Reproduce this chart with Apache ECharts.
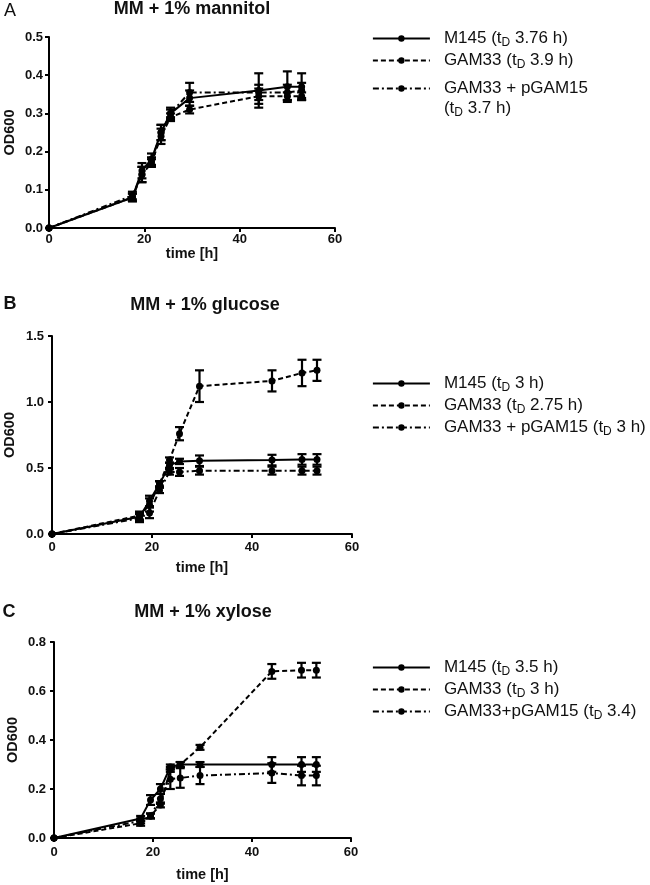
<!DOCTYPE html>
<html>
<head>
<meta charset="utf-8">
<script src="https://cdn.jsdelivr.net/npm/echarts@6/dist/echarts.min.js"></script>
<style>
html,body{margin:0;padding:0;background:#fff;}
#chart{width:650px;height:885px;}
</style>
</head>
<body>
<div id="chart"></div>
<script>
// ---- data ----
const times = [0, 17.5, 19.5, 21.5, 23.5, 25.5, 29.5, 44, 50, 53];

const mannitolM145 = [0, 0.08, 0.15, 0.18, 0.25, 0.30, 0.34, 0.36, 0.37, 0.37];
const mannitolGAM33 = [0, 0.08, 0.14, 0.17, 0.24, 0.29, 0.31, 0.345, 0.345, 0.345];
const mannitolComp = [0, 0.085, 0.14, 0.175, 0.25, 0.30, 0.355, 0.355, 0.355, 0.36];
const mannitolM145Err = [0, 0.01, 0.02, 0.015, 0.02, 0.015, 0.02, 0.045, 0.04, 0.035];
const mannitolGAM33Err = [0, 0.01, 0.02, 0.01, 0.02, 0.01, 0.01, 0.02, 0.01, 0.01];
const mannitolCompErr = [0, 0.01, 0.02, 0.01, 0.02, 0.01, 0.025, 0.02, 0.02, 0.02];

const glucoseM145 = [0, 0.13, 0.25, 0.38, 0.52, 0.55, 0.555, 0.56, 0.565, 0.565];
const glucoseGAM33 = [0, 0.14, 0.22, 0.38, 0.56, 0.76, 1.12, 1.16, 1.22, 1.24];
const glucoseComp = [0, 0.12, 0.16, 0.33, 0.47, 0.47, 0.48, 0.48, 0.48, 0.48];
const glucoseM145Err = [0, 0.03, 0.04, 0.02, 0.02, 0.02, 0.04, 0.04, 0.04, 0.04];
const glucoseGAM33Err = [0, 0.03, 0.05, 0.02, 0.02, 0.05, 0.12, 0.08, 0.1, 0.08];
const glucoseCompErr = [0, 0.03, 0.04, 0.02, 0.02, 0.03, 0.03, 0.03, 0.03, 0.03];

const xyloseM145 = [0, 0.08, 0.155, 0.20, 0.29, 0.30, 0.30, 0.30, 0.30, 0.30];
const xyloseGAM33 = [0, 0.06, 0.09, 0.135, 0.28, 0.30, 0.37, 0.68, 0.685, 0.685];
const xyloseComp = [0, 0.07, 0.09, 0.16, 0.24, 0.245, 0.255, 0.265, 0.255, 0.255];
const xyloseM145Err = [0, 0.01, 0.02, 0.02, 0.01, 0.01, 0.01, 0.03, 0.03, 0.03];
const xyloseGAM33Err = [0, 0.01, 0.01, 0.01, 0.01, 0.01, 0.01, 0.03, 0.03, 0.03];
const xyloseCompErr = [0, 0.01, 0.01, 0.02, 0.04, 0.04, 0.035, 0.04, 0.04, 0.04];

const panelTitles = ['MM + 1% mannitol', 'MM + 1% glucose', 'MM + 1% xylose'];
const panelLetters = ['A', 'B', 'C'];
const mannitolNames = ['M145 (tD 3.76 h)', 'GAM33 (tD 3.9 h)', 'GAM33 + pGAM15\n(tD 3.7 h)'];
const glucoseNames = ['M145 (tD 3 h)', 'GAM33 (tD 2.75 h)', 'GAM33 + pGAM15 (tD 3 h)'];
const xyloseNames = ['M145 (tD 3.5 h)', 'GAM33 (tD 3 h)', 'GAM33+pGAM15 (tD 3.4)'];
const yMax = [0.5, 1.5, 0.8];
const yInterval = [0.1, 0.5, 0.2];

// ---- build ----
const FONT = "'Liberation Sans', Arial, sans-serif";
const dashStyles = ['solid', [5, 3], [6, 3, 2, 3]];

const panels = [
  {vals: [mannitolM145, mannitolGAM33, mannitolComp], errs: [mannitolM145Err, mannitolGAM33Err, mannitolCompErr], names: mannitolNames},
  {vals: [glucoseM145, glucoseGAM33, glucoseComp], errs: [glucoseM145Err, glucoseGAM33Err, glucoseCompErr], names: glucoseNames},
  {vals: [xyloseM145, xyloseGAM33, xyloseComp], errs: [xyloseM145Err, xyloseGAM33Err, xyloseCompErr], names: xyloseNames}
];

const grids = [
  {left: 49, top: 37, width: 286, height: 191},
  {left: 52, top: 336, width: 300, height: 198},
  {left: 54, top: 642, width: 297, height: 196}
];
const xLabelMargin = [5, 7, 8];
const xNameGap = [16, 26, 29];
const yLabelMargin = [6, 8, 8];
const yNameGap = [32, 35, 34];

function richName(name) {
  return name.split('\n').map(function (line) {
    return line.split('tD').map(function (p) { return p ? '{n|' + p + '}' : ''; }).join('{n|t}{s|D}');
  }).join('\n');
}
const rich = {
  n: {fontSize: 17, lineHeight: 20, fontFamily: FONT, color: '#111'},
  s: {fontSize: 12, lineHeight: 10, verticalAlign: 'bottom', fontFamily: FONT, color: '#111'}
};

const xAxes = [], yAxes = [], series = [];
panels.forEach(function (p, gi) {
  xAxes.push({
    gridIndex: gi, type: 'value', min: 0, max: 60, interval: 20,
    name: 'time [h]', nameLocation: 'middle', nameGap: xNameGap[gi],
    nameTextStyle: {fontFamily: FONT, fontWeight: 'bold', fontSize: 14.5, color: '#111', verticalAlign: 'top'},
    axisLine: {lineStyle: {color: '#000', width: 2}},
    axisTick: {show: true, length: 4, lineStyle: {color: '#000', width: 2}},
    axisLabel: {fontFamily: FONT, fontWeight: 'bold', fontSize: 13, color: '#111', margin: xLabelMargin[gi]},
    splitLine: {show: false}
  });
  yAxes.push({
    gridIndex: gi, type: 'value', min: 0, max: yMax[gi], interval: yInterval[gi],
    name: 'OD600', nameLocation: 'middle', nameGap: yNameGap[gi], nameRotate: 90,
    nameTextStyle: {fontFamily: FONT, fontWeight: 'bold', fontSize: 14.5, color: '#111'},
    axisLine: {show: true, lineStyle: {color: '#000', width: 2}},
    axisTick: {show: true, length: 4, lineStyle: {color: '#000', width: 2}},
    axisLabel: {fontFamily: FONT, fontWeight: 'bold', fontSize: 13, color: '#111', margin: yLabelMargin[gi],
      formatter: function (v) { return v.toFixed(1); }},
    splitLine: {show: false}
  });
  p.vals.forEach(function (vals, si) {
    const name = p.names[si];
    series.push({
      type: 'line', name: name, xAxisIndex: gi, yAxisIndex: gi,
      data: times.map(function (t, i) { return [t, vals[i]]; }),
      symbol: 'circle', symbolSize: 7, showSymbol: true,
      itemStyle: {color: '#000'},
      lineStyle: {color: '#000', width: 2, type: dashStyles[si]},
      z: 3
    });
    series.push({
      type: 'custom', name: name + ' SD', xAxisIndex: gi, yAxisIndex: gi, silent: true,
      data: times.map(function (t, i) { return [t, vals[i], p.errs[si][i]]; }),
      renderItem: function (params, api) {
        const x = api.value(0), y = api.value(1), e = api.value(2);
        if (!e) return null;
        const top = api.coord([x, y + e]);
        const bot = api.coord([x, y - e]);
        const w = 4.5;
        const st = {stroke: '#000', lineWidth: 2.2};
        return {type: 'group', children: [
          {type: 'line', shape: {x1: top[0], y1: top[1], x2: bot[0], y2: bot[1]}, style: st},
          {type: 'line', shape: {x1: top[0] - w, y1: top[1], x2: top[0] + w, y2: top[1]}, style: st},
          {type: 'line', shape: {x1: bot[0] - w, y1: bot[1], x2: bot[0] + w, y2: bot[1]}, style: st}
        ]};
      },
      z: 2
    });
  });
});

function legendFor(names, left, top, padding) {
  return {
    left: left, top: top, orient: 'vertical', padding: 0, itemGap: 3.5,
    itemWidth: 57, itemHeight: 8, selectedMode: false,
    data: names,
    formatter: richName,
    lineStyle: {width: 1.8},
    textStyle: {fontFamily: FONT, fontSize: 17, color: '#111', padding: padding, rich: rich}
  };
}

const legends = [
  legendFor(mannitolNames.slice(0, 2), 372, 30, [0, 0, 0, 9]),
  legendFor(mannitolNames.slice(2), 372, 80, [20, 0, 0, 9]),
  legendFor(glucoseNames, 372, 375, [0, 0, 0, 9]),
  legendFor(xyloseNames, 372, 659, [0, 0, 0, 9])
];

const titlePos = [[192, 9], [205, 305], [203, 612]];
const letterPos = [[10, 11], [10, 304], [9, 612]];
const graphics = [];
panelTitles.forEach(function (t, i) {
  graphics.push({type: 'text', x: titlePos[i][0], y: titlePos[i][1], silent: true,
    style: {text: t, font: 'bold 18px ' + FONT, fill: '#111', textAlign: 'center', textVerticalAlign: 'middle'}});
  graphics.push({type: 'text', x: letterPos[i][0], y: letterPos[i][1], silent: true,
    style: {text: panelLetters[i], font: (i === 0 ? 'normal' : 'bold') + ' 18px ' + FONT, fill: '#111', textAlign: 'center', textVerticalAlign: 'middle'}});
});

const chart = echarts.init(document.getElementById('chart'), null, {renderer: 'canvas'});
chart.setOption({
  animation: false,
  backgroundColor: '#fff',
  grid: grids,
  xAxis: xAxes,
  yAxis: yAxes,
  legend: legends,
  graphic: graphics,
  series: series
});
</script>
</body>
</html>
